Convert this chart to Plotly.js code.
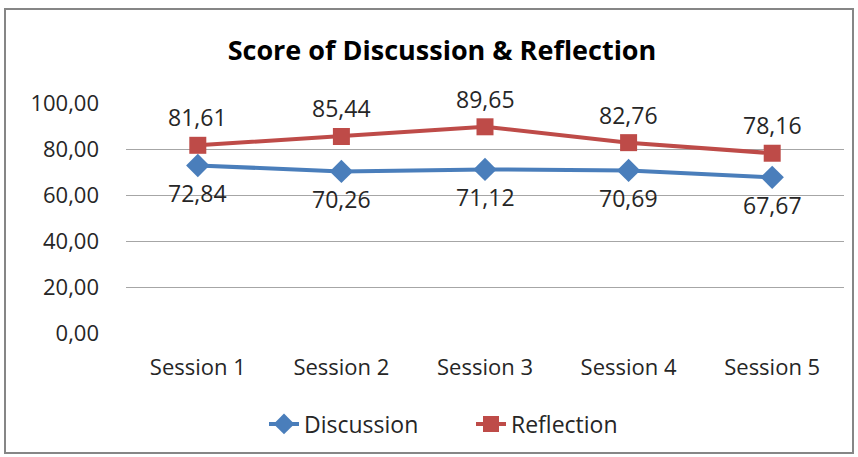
<!DOCTYPE html>
<html>
<head>
<meta charset="utf-8">
<script src="https://cdn.plot.ly/plotly-3.0.1.min.js"></script>
<style>body{margin:0;padding:0;background:#fff;}#chart{width:858px;height:457px;}</style>
</head>
<body>
<div id="chart"></div>
<script>
const categories = ["Session 1", "Session 2", "Session 3", "Session 4", "Session 5"];
const discussion = [72.84, 70.26, 71.12, 70.69, 67.67];
const reflection = [81.61, 85.44, 89.65, 82.76, 78.16];
const yTicks = [0, 20, 40, 60, 80, 100];

const fmt = v => v.toFixed(2).replace('.', ',');
const FONT = '"Open Sans", "Noto Sans", sans-serif';
const TXT = '#262626';

const W = 858, H = 457;
const margin = {l: 126, r: 14, t: 103, b: 124};
const pw = W - margin.l - margin.r, ph = H - margin.t - margin.b;
const px = x => (x - margin.l) / pw;
const py = y => (H - margin.b - y) / ph;

const traces = [
  {x: categories, y: discussion, name: 'Discussion', type: 'scatter', mode: 'lines+markers',
   line: {color: '#4A7EBB', width: 4}, marker: {symbol: 'diamond', size: 18, color: '#4A7EBB'}},
  {x: categories, y: reflection, name: 'Reflection', type: 'scatter', mode: 'lines+markers',
   line: {color: '#BE4B48', width: 4}, marker: {symbol: 'square', size: 17, color: '#BE4B48'}}
];

const annotations = [];
categories.forEach((c, i) => {
  annotations.push({x: c, y: discussion[i], xref: 'x', yref: 'y', text: fmt(discussion[i]), showarrow: false,
    yshift: -28, font: {family: FONT, size: 23, color: TXT}});
  annotations.push({x: c, y: reflection[i], xref: 'x', yref: 'y', text: fmt(reflection[i]), showarrow: false,
    yshift: 28, font: {family: FONT, size: 23, color: TXT}});
});

const layout = {
  width: W, height: H, margin: margin,
  paper_bgcolor: '#fff', plot_bgcolor: '#fff',
  separators: ',.',
  font: {family: FONT, size: 22, color: TXT},
  title: {text: '<b>Score of Discussion & Reflection</b>', x: 442 / W, xref: 'container', xanchor: 'center', y: 1 - 51 / H, yanchor: 'middle',
          font: {family: FONT, size: 27, color: '#000'}},
  xaxis: {type: 'category', range: [-0.5, 4.5], showgrid: false, zeroline: false, showline: false,
          ticks: '', tickfont: {family: FONT, size: 22, color: TXT}, ticklabelstandoff: 19},
  yaxis: {range: [0, 100], tickvals: yTicks, ticktext: yTicks.map(fmt), showgrid: true, gridcolor: '#A6A6A6', gridwidth: 1,
          zeroline: false, showline: false, ticks: '', tickfont: {family: FONT, size: 22, color: TXT}, ticklabelstandoff: 26},
  showlegend: true,
  legend: {orientation: 'h', x: px(264), xanchor: 'left', y: py(424), yanchor: 'middle',
           font: {family: FONT, size: 23, color: TXT}, traceorder: 'normal', entrywidth: 162, entrywidthmode: 'pixels'},
  annotations: annotations,
  shapes: [{type: 'rect', xref: 'paper', yref: 'paper', x0: px(5), x1: px(853), y0: py(453), y1: py(9),
            line: {color: '#868686', width: 2}, fillcolor: 'rgba(0,0,0,0)', layer: 'below'}]
};

Plotly.newPlot('chart', traces, layout, {displayModeBar: false, staticPlot: true});
</script>
</body>
</html>
